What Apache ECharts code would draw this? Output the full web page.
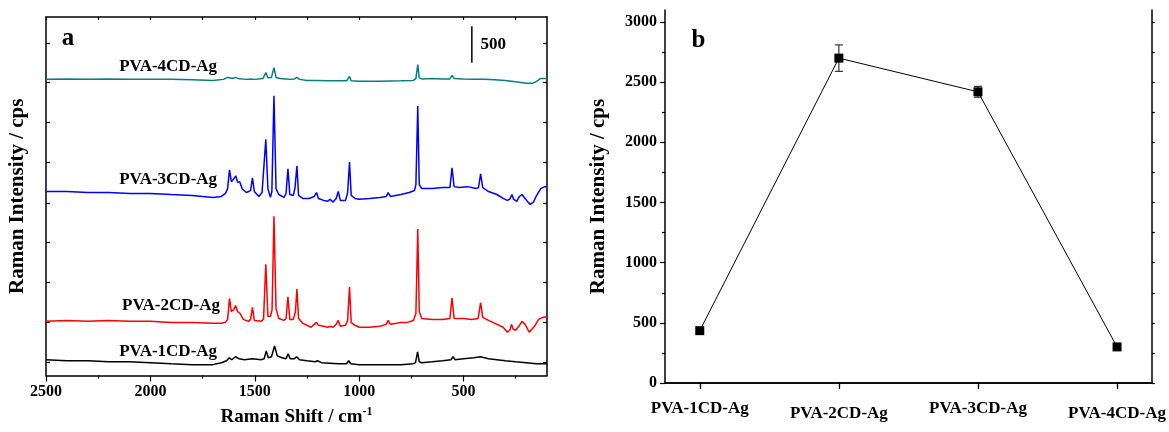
<!DOCTYPE html>
<html><head><meta charset="utf-8">
<script src="https://cdn.jsdelivr.net/npm/echarts@6/dist/echarts.min.js"></script>
<style>html,body{margin:0;padding:0;background:#fff}#c{width:1169px;height:432px}</style>
</head><body><div id="c"></div>
<script>
// ---------- Panel a: Raman spectra (shift cm-1, intensity cps incl. stacking offset) ----------
const shiftTicks = [500, 1000, 1500, 2000, 2500];
const shiftMinor = [250, 750, 1250, 1750, 2250];
const intensityTicks = [180, 730, 1280, 1830, 2370, 2920, 3470, 4020, 4560];

const spec1CD = [[2500,216],[2400,203],[2300,203],[2200,189],[2100,189],[2000,176],[1900,162],[1800,149],[1700,149],[1660,176],[1635,203],[1622,243],[1610,216],[1592,257],[1575,230],[1550,216],[1510,230],[1470,216],[1455,230],[1445,338],[1435,243],[1420,257],[1405,405],[1392,270],[1370,243],[1350,230],[1340,297],[1330,230],[1310,230],[1300,257],[1285,216],[1250,203],[1210,189],[1200,203],[1180,176],[1100,162],[1060,162],[1050,203],[1040,162],[1000,149],[900,149],[800,149],[740,162],[730,176],[720,324],[712,189],[700,176],[650,189],[600,203],[560,216],[550,257],[540,216],[500,230],[450,243],[420,257],[380,230],[300,203],[250,189],[200,176],[150,162],[100,162]];

const spec2CD = [[2500,743],[2400,756],[2300,743],[2200,756],[2100,743],[2000,743],[1900,729],[1800,729],[1700,716],[1660,716],[1640,729],[1630,770],[1621,1057],[1612,878],[1600,905],[1592,960],[1582,878],[1570,851],[1555,770],[1530,743],[1520,770],[1511,936],[1502,756],[1470,743],[1458,770],[1447,1526],[1437,810],[1425,810],[1417,905],[1408,2187],[1398,918],[1385,783],[1360,756],[1350,783],[1341,1080],[1332,770],[1315,770],[1305,878],[1298,1188],[1290,783],[1270,716],[1250,689],[1230,662],[1215,702],[1204,729],[1195,689],[1170,675],[1150,662],[1140,675],[1125,662],[1110,702],[1100,756],[1090,675],[1065,689],[1055,756],[1046,1215],[1038,729],[1020,689],[1000,662],[950,662],[900,675],[870,702],[861,756],[850,702],[820,716],[800,729],[770,729],[740,756],[728,850],[719,2012],[712,878],[700,783],[650,770],[600,770],[565,783],[555,1067],[545,783],[500,783],[460,770],[430,783],[418,999],[408,797],[380,756],[350,716],[310,662],[290,594],[278,621],[270,702],[262,635],[250,621],[235,675],[220,743],[205,702],[185,594],[178,567],[160,675],[140,770],[120,797],[100,810]];

const spec3CD = [[2500,2525],[2400,2525],[2300,2511],[2200,2511],[2100,2498],[2000,2498],[1900,2484],[1800,2471],[1700,2444],[1660,2457],[1640,2498],[1630,2565],[1621,2822],[1612,2660],[1600,2700],[1591,2741],[1582,2650],[1572,2660],[1560,2560],[1540,2511],[1520,2538],[1511,2714],[1502,2525],[1480,2457],[1465,2511],[1447,3240],[1437,2565],[1425,2444],[1418,2525],[1408,3838],[1398,2565],[1385,2484],[1360,2444],[1350,2498],[1341,2835],[1332,2484],[1315,2471],[1307,2580],[1298,2876],[1290,2471],[1270,2430],[1240,2430],[1215,2457],[1204,2511],[1195,2430],[1170,2403],[1150,2390],[1140,2420],[1125,2380],[1110,2430],[1100,2525],[1090,2403],[1065,2403],[1055,2511],[1046,2930],[1038,2471],[1020,2430],[1000,2420],[950,2430],[900,2444],[870,2457],[861,2511],[850,2457],[800,2484],[760,2511],[735,2538],[728,2620],[719,3699],[712,2620],[700,2565],[650,2565],[600,2579],[565,2579],[555,2849],[545,2592],[520,2579],[480,2592],[440,2565],[428,2580],[418,2768],[408,2580],[380,2525],[340,2484],[310,2430],[290,2403],[278,2420],[268,2484],[260,2420],[245,2390],[232,2457],[220,2484],[205,2430],[190,2376],[180,2349],[165,2380],[150,2470],[130,2565],[110,2592],[100,2592]];

const spec4CD = [[2500,4064],[2400,4070],[2300,4064],[2200,4070],[2100,4064],[2000,4064],[1900,4064],[1800,4058],[1700,4050],[1650,4064],[1630,4091],[1621,4100],[1605,4077],[1592,4091],[1580,4077],[1540,4064],[1520,4070],[1511,4091],[1500,4064],[1460,4077],[1447,4158],[1437,4085],[1420,4091],[1408,4226],[1398,4091],[1380,4077],[1350,4070],[1341,4097],[1330,4064],[1310,4070],[1298,4091],[1285,4064],[1250,4050],[1200,4050],[1150,4044],[1100,4044],[1060,4044],[1046,4104],[1038,4044],[1000,4037],[900,4037],[800,4044],[740,4050],[728,4077],[719,4266],[712,4085],[700,4070],[650,4077],[600,4070],[565,4070],[555,4118],[545,4077],[500,4070],[450,4064],[400,4064],[350,4058],[300,4050],[250,4030],[200,4010],[170,4010],[150,4037],[130,4077],[110,4077],[100,4077]];

const specNames  = ['PVA-1CD-Ag', 'PVA-2CD-Ag', 'PVA-3CD-Ag', 'PVA-4CD-Ag'];
const specColors = ['#000000', '#ff0000', '#0000ff', '#008080'];
const specLabelPos = [[1915, 324], [1901, 958], [1915, 2687], [1915, 4239]];
const scaleBar = [[460, 4293], [460, 4793]];
const scaleBarLabel = [358, 4536, '500'];
const panelALabel = [2395, 4630, 'a'];

// ---------- Panel b: intensity per sample ----------
const samples   = ['PVA-1CD-Ag', 'PVA-2CD-Ag', 'PVA-3CD-Ag', 'PVA-4CD-Ag'];
const intensity = [435, 2700, 2420, 300];
const errors    = [15, 110, 45, 25];
const bTicks    = [0, 500, 1000, 1500, 2000, 2500, 3000];
const bMinor    = [250, 750, 1250, 1750, 2250, 2750];
const panelBLabel = [0.99, 2850, 'b'];

const F = 'Liberation Serif';
const black = '#000';
const txt = (size) => ({ color: black, fontFamily: F, fontWeight: 'bold', fontSize: size });
const plain = v => String(v);

const chart = echarts.init(document.getElementById('c'), null, { renderer: 'canvas' });

const lineAx = { lineStyle: { color: black, width: 1.5 } };
const tickSt = { color: black, width: 1.2 };

const spectra = [spec1CD, spec2CD, spec3CD, spec4CD];

const option = {
  backgroundColor: '#fff',
  animation: false,
  grid: [
    { left: 46, right: 622, top: 17, bottom: 51 },
    { left: 665, right: 7, top: 10, bottom: 49 }
  ],
  xAxis: [
    { gridIndex: 0, type: 'value', min: 100, max: 2500, inverse: true, position: 'bottom',
      axisLine: lineAx, splitLine: { show: false },
      axisTick: { customValues: shiftTicks, length: 6, lineStyle: tickSt },
      axisLabel: Object.assign({ customValues: shiftTicks, margin: 8, formatter: plain }, txt(16)),
      name: '{n|Raman Shift / cm}{s|-1}', nameLocation: 'middle', nameGap: 30,
      nameTextStyle: { rich: { n: txt(19), s: Object.assign(txt(12), { verticalAlign: 'top', padding: [0, 0, 12, 0] }) } } },
    { gridIndex: 0, type: 'value', min: 100, max: 2500, inverse: true, position: 'bottom',
      axisLine: { show: false }, splitLine: { show: false }, axisLabel: { show: false },
      axisTick: { customValues: shiftMinor, length: 3, lineStyle: tickSt } },
    { gridIndex: 0, type: 'value', min: 100, max: 2500, inverse: true, position: 'top',
      axisLine: lineAx, splitLine: { show: false }, axisLabel: { show: false },
      axisTick: { customValues: shiftTicks.concat(shiftMinor), inside: true, length: 3, lineStyle: tickSt } },
    { gridIndex: 1, type: 'value', min: 0.75, max: 4.25, position: 'bottom',
      axisLine: lineAx, splitLine: { show: false },
      axisTick: { customValues: [1, 2, 3, 4], length: 6, lineStyle: tickSt },
      axisLabel: { customValues: [1, 2, 3, 4], margin: 17,
        formatter: v => (Math.round(v) % 2 === 0 ? '{b|' : '{a|') + samples[Math.round(v) - 1] + '}',
        rich: { a: txt(17), b: Object.assign(txt(17), { padding: [5, 0, 0, 0] }) } } },
    { gridIndex: 1, type: 'value', min: 0.75, max: 4.25, position: 'top',
      axisLine: lineAx, splitLine: { show: false }, axisLabel: { show: false },
      axisTick: { customValues: [1, 2, 3, 4], inside: true, length: 4, lineStyle: tickSt } }
  ],
  yAxis: [
    { gridIndex: 0, type: 'value', min: 0, max: 4920, position: 'left',
      axisLine: lineAx, splitLine: { show: false }, axisLabel: { show: false },
      axisTick: { customValues: intensityTicks, inside: true, length: 4, lineStyle: tickSt },
      name: 'Raman Intensity / cps', nameLocation: 'middle', nameGap: 18, nameTextStyle: txt(21) },
    { gridIndex: 0, type: 'value', min: 0, max: 4920, position: 'right',
      axisLine: lineAx, splitLine: { show: false }, axisLabel: { show: false },
      axisTick: { customValues: intensityTicks, inside: true, length: 4, lineStyle: tickSt } },
    { gridIndex: 1, type: 'value', min: 0, max: 3100, position: 'left',
      axisLine: lineAx, splitLine: { show: false },
      axisTick: { customValues: bTicks, length: 5, lineStyle: tickSt },
      axisLabel: Object.assign({ customValues: bTicks, margin: 8, formatter: plain }, txt(16)),
      name: 'Raman Intensity / cps', nameLocation: 'middle', nameGap: 56, nameTextStyle: txt(21) },
    { gridIndex: 1, type: 'value', min: 0, max: 3100, position: 'left',
      axisLine: { show: false }, splitLine: { show: false }, axisLabel: { show: false },
      axisTick: { customValues: bMinor, length: 3, lineStyle: tickSt } },
    { gridIndex: 1, type: 'value', min: 0, max: 3100, position: 'right',
      axisLine: lineAx, splitLine: { show: false }, axisLabel: { show: false },
      axisTick: { customValues: bTicks.concat(bMinor), length: 3, lineStyle: tickSt } }
  ],
  series: [
    ...spectra.map((d, i) => ({
      type: 'line', name: specNames[i], xAxisIndex: 0, yAxisIndex: 0, data: d,
      showSymbol: false, symbol: 'none', smooth: false,
      lineStyle: { color: specColors[i], width: 1.5 }, z: 3
    })),
    { type: 'line', xAxisIndex: 0, yAxisIndex: 0, data: scaleBar, symbol: 'none',
      lineStyle: { color: black, width: 1.5 }, z: 4 },
    { type: 'custom', xAxisIndex: 3, yAxisIndex: 2, z: 3,
      data: intensity.map((v, i) => [i + 1, v - errors[i], v + errors[i]]),
      encode: { x: 0, y: [1, 2] },
      renderItem: (params, api) => {
        const x = api.value(0);
        const lo = api.coord([x, api.value(1)]);
        const hi = api.coord([x, api.value(2)]);
        const w = 4;
        const st = { stroke: '#333', lineWidth: 1.2 };
        return { type: 'group', children: [
          { type: 'line', shape: { x1: lo[0], y1: lo[1], x2: hi[0], y2: hi[1] }, style: st },
          { type: 'line', shape: { x1: lo[0] - w, y1: lo[1], x2: lo[0] + w, y2: lo[1] }, style: st },
          { type: 'line', shape: { x1: hi[0] - w, y1: hi[1], x2: hi[0] + w, y2: hi[1] }, style: st }
        ] };
      } },
    { type: 'line', xAxisIndex: 3, yAxisIndex: 2, z: 4,
      data: intensity.map((v, i) => [i + 1, v]),
      symbol: 'rect', symbolSize: 9, showSymbol: true,
      itemStyle: { color: black }, lineStyle: { color: black, width: 1 } }
  ]
};
chart.setOption(option);

// Annotation texts placed through the axes' own coordinate conversion
const gA = { xAxisIndex: 0, yAxisIndex: 0 };
const gB = { xAxisIndex: 3, yAxisIndex: 2 };
const mkText = (finder, pos, text, size) => {
  const p = chart.convertToPixel(finder, [pos[0], pos[1]]);
  return { type: 'text', x: p[0], y: p[1], z: 10, silent: true,
    style: { text: text, fill: black, font: 'bold ' + size + 'px "' + F + '"', align: 'center', verticalAlign: 'middle' } };
};
const texts = specLabelPos.map((p, i) => mkText(gA, p, specNames[i], 17))
  .concat([mkText(gA, scaleBarLabel, scaleBarLabel[2], 17), mkText(gA, panelALabel, panelALabel[2], 25), mkText(gB, panelBLabel, panelBLabel[2], 25)]);
chart.setOption({ graphic: texts });
</script>
</body></html>
